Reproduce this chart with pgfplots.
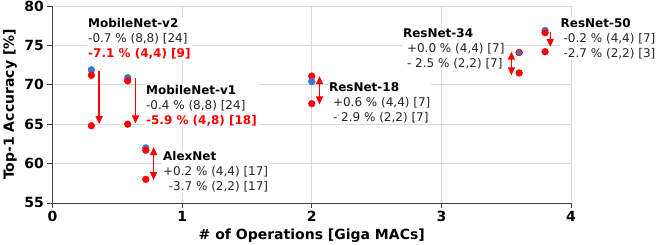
\documentclass[border=0pt]{standalone}
\usepackage{fontspec}
\setmainfont{DejaVu Sans}
\usepackage{pgfplots}
\pgfplotsset{compat=1.18}
\usetikzlibrary{arrows.meta}
\definecolor{fpblue}{RGB}{68,114,196}
\definecolor{gridgray}{RGB}{217,217,217}
\definecolor{axgray}{RGB}{64,64,64}
\begin{document}
\begin{tikzpicture}[
  lbl/.style={anchor=base west, yshift=-30pt, align=left, fill=white, inner sep=1pt, font=\fontsize{12}{15}\selectfont, text=black!85},
  arr/.style={red, line width=1.5pt, -{Triangle[width=7pt,length=8pt]}},
  darr/.style={red, line width=1.5pt, {Triangle[width=7pt,length=8pt]}-{Triangle[width=7pt,length=8pt]}},
]
\begin{axis}[
  width=518.5pt, height=197pt, scale only axis,
  xmin=0, xmax=4, ymin=55, ymax=80,
  xtick={0,1,2,3,4}, ytick={55,60,...,80},
  grid=major, grid style={gridgray, line width=0.8pt},
  axis x line*=bottom, axis y line*=left,
  axis line style={axgray, line width=0.9pt},
  tick style={axgray, line width=0.9pt},
  tick align=outside, major tick length=5pt,
  ticklabel style={font=\bfseries\fontsize{14}{14}\selectfont},
  /pgf/number format/assume math mode=true,
  xlabel={\bfseries\# of Operations [Giga MACs]},
  ylabel={\bfseries Top-1 Accuracy [\%]},
  label style={font=\bfseries\fontsize{14}{16}\selectfont},
  xlabel style={at={(axis description cs:0.5,-0.1675)}, anchor=center},
  ylabel style={at={(axis description cs:-0.082,0.5)}, anchor=center},
  clip=false,
]
% annotations
\node[lbl] at (axis cs:0.266,77.27) {\textbf{\color{black}MobileNet-v2}\\-0.7 \% (8,8) [24]\\\textcolor{red}{\bfseries -7.1 \% (4,4) [9]}};
\node[lbl] at (axis cs:0.713,68.77) {\textbf{\color{black}MobileNet-v1}\\-0.4 \% (8,8) [24]\\\textcolor{red}{\bfseries -5.9 \% (4,8) [18]}};
\node[lbl] at (axis cs:0.844,60.39) {\textbf{\color{black}AlexNet}\\+0.2 \% (4,4) [17]\\\hphantom{+}\llap{-}3.7 \% (2,2) [17]};
\node[lbl] at (axis cs:2.124,69.15) {\textbf{\color{black}ResNet-18}\\\hspace{4pt}+0.6 \% (4,4) [7]\\\hspace{4pt}- 2.9 \% (2,2) [7]};
\node[lbl] at (axis cs:2.695,76.0) {\textbf{\color{black}ResNet-34}\\\hspace{4pt}+0.0 \% (4,4) [7]\\\hspace{4pt}- 2.5 \% (2,2) [7]};
\node[lbl] at (axis cs:3.911,77.33) {\textbf{\color{black}ResNet-50}\\\hspace{3pt}-0.2 \% (4,4) [7]\\\hspace{3pt}-2.7 \% (2,2) [3]};
% red upper points (behind blue)
\addplot[only marks, mark=*, mark size=3.4pt, red] coordinates {(2.0,71.1) (3.6,74.1)};
% blue full precision
\addplot[only marks, mark=*, mark size=3.4pt, fpblue, mark options={draw=fpblue}] coordinates {(0.30,71.9) (0.58,70.9) (0.72,62.0) (2.0,70.4) (3.8,76.9)};
\addplot[only marks, mark=*, mark size=3.1pt, fpblue, mark options={draw=red, line width=0.6pt}] coordinates {(3.6,74.1)};
% red upper points (over blue)
\addplot[only marks, mark=*, mark size=3.4pt, red] coordinates {(0.30,71.2) (0.58,70.5) (0.72,61.7) (3.8,76.6)};
% red lower points
\addplot[only marks, mark=*, mark size=3.4pt, red] coordinates {(0.30,64.8) (0.58,65.0) (0.72,58.0) (2.0,67.6) (3.6,71.5) (3.8,74.2)};
% arrows
\addplot[arr, mark=none] coordinates {(0.36,71.8) (0.36,65.0)};
\addplot[arr, mark=none] coordinates {(0.64,70.9) (0.64,65.1)};
\addplot[darr, mark=none] coordinates {(0.78,62.1) (0.78,57.9)};
\addplot[darr, mark=none] coordinates {(2.06,71.1) (2.06,67.5)};
\addplot[darr, mark=none] coordinates {(3.54,74.2) (3.54,71.2)};
\addplot[arr, mark=none] coordinates {(3.84,76.7) (3.84,74.8)};
\end{axis}
\pgfresetboundingbox
\path[use as bounding box] (-52.5pt,-42pt) rectangle (612.5pt,203pt);
\end{tikzpicture}
\end{document}
